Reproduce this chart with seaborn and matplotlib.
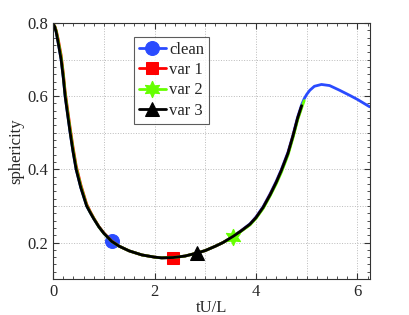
import numpy as np
import pandas as pd
import seaborn as sns
import matplotlib.pyplot as plt
from matplotlib.ticker import MultipleLocator

# time axis and sphericity values
t_clean = [0, 0.03, 0.06, 0.1, 0.157, 0.2, 0.236, 0.285, 0.335, 0.39,
           0.453, 0.545, 0.66, 0.73, 0.8, 0.9, 1.0, 1.155, 1.3, 1.5,
           1.75, 2.0, 2.14, 2.37, 2.6, 2.83, 3.0, 3.2, 3.35, 3.55,
           3.7, 3.88, 4.0, 4.14, 4.28, 4.4, 4.5, 4.63, 4.73, 4.82,
           4.9, 4.95, 5.0, 5.06, 5.15, 5.29, 5.45, 5.65, 5.85, 6.0, 6.24]
s_clean = [0.797, 0.79, 0.775, 0.745, 0.70, 0.65, 0.60, 0.55, 0.50, 0.45,
           0.40, 0.35, 0.30, 0.282, 0.265, 0.243, 0.225, 0.203, 0.19, 0.177,
           0.166, 0.16, 0.158, 0.159, 0.163, 0.171, 0.178, 0.19, 0.2, 0.217,
           0.232, 0.251, 0.27, 0.298, 0.334, 0.368, 0.40, 0.447, 0.495, 0.543,
           0.577, 0.593, 0.605, 0.616, 0.627, 0.632, 0.629, 0.616, 0.602, 0.591, 0.571]

t_var1 = t_clean[:41]
s_var1 = [0.797, 0.792, 0.78, 0.755, 0.712, 0.663, 0.613, 0.563, 0.513, 0.462,
          0.41, 0.358, 0.305, 0.285, 0.267, 0.244, 0.226, 0.204, 0.19, 0.177,
          0.166, 0.16, 0.158, 0.159, 0.163, 0.171, 0.178, 0.19, 0.2, 0.216,
          0.231, 0.249, 0.268, 0.295, 0.331, 0.364, 0.396, 0.443, 0.491, 0.538,
          0.572]

t_var2 = t_clean[:42]
s_var2 = [0.797, 0.791, 0.778, 0.75, 0.707, 0.657, 0.607, 0.557, 0.507, 0.456,
          0.405, 0.354, 0.302, 0.283, 0.266, 0.243, 0.225, 0.203, 0.19, 0.177,
          0.166, 0.16, 0.158, 0.159, 0.163, 0.171, 0.178, 0.19, 0.2, 0.216,
          0.23, 0.248, 0.266, 0.293, 0.328, 0.361, 0.392, 0.439, 0.487, 0.535,
          0.568, 0.588]

t_var3 = t_clean[:41]
s_var3 = [0.797, 0.79, 0.775, 0.745, 0.70, 0.65, 0.60, 0.55, 0.50, 0.45,
          0.40, 0.35, 0.30, 0.282, 0.265, 0.243, 0.225, 0.203, 0.19, 0.177,
          0.166, 0.16, 0.158, 0.159, 0.163, 0.171, 0.178, 0.19, 0.2, 0.217,
          0.231, 0.25, 0.268, 0.296, 0.331, 0.365, 0.397, 0.444, 0.492, 0.54,
          0.574]

# time where each curve carries its one marker
mark_t = [1.155, 2.37, 3.55, 2.83]

labels = ['clean', 'var 1', 'var 2', 'var 3']
colors = ['#2a4bff', '#ff0000', '#66ff00', '#000000']
markers = ['o', 's', (6, 1, 0), '^']
msizes = [10, 9, 12, 10]

sns.set_style('ticks')
plt.rcParams['font.family'] = ['Liberation Serif', 'DejaVu Serif']

fig = plt.figure(figsize=(4.09, 3.15), dpi=100)
ax = fig.add_axes([0.130, 0.114, 0.775, 0.813])

curves = [(t_clean, s_clean), (t_var1, s_var1), (t_var2, s_var2), (t_var3, s_var3)]

for (t, s), mt, lab, c, mk, ms in zip(curves, mark_t, labels, colors, markers, msizes):
    df = pd.DataFrame({'t': t, 's': s})
    sns.lineplot(data=df, x='t', y='s', ax=ax, color=c, lw=2, label=lab,
                 marker=mk, markersize=ms, markevery=[t.index(mt)], markeredgecolor=c)

ax.set_xlim(0, 6.25)
ax.set_ylim(0.1, 0.8)
ax.set_xticks([0, 2, 4, 6])
ax.set_yticks([0.2, 0.4, 0.6, 0.8])
ax.set_yticklabels(['0.2', '0.4', '0.6', '0.8'])
ax.xaxis.set_minor_locator(MultipleLocator(0.2))
ax.yaxis.set_minor_locator(MultipleLocator(0.02))
ax.tick_params(which='both', direction='in', top=True, right=True, labelsize=12, color='#333333')
ax.tick_params(which='major', length=4)
ax.tick_params(which='minor', length=2)
for x in [1, 2, 3, 4, 5, 6]:
    ax.axvline(x, color='#bbbbbb', lw=0.7, ls=':', zorder=0)
for y in [0.2, 0.3, 0.4, 0.5, 0.6, 0.7]:
    ax.axhline(y, color='#bbbbbb', lw=0.7, ls=':', zorder=0)
for sp in ax.spines.values():
    sp.set_color('#333333')
    sp.set_linewidth(0.8)

ax.set_xlabel('tU/L', fontsize=12, labelpad=0)
ax.set_ylabel('sphericity', fontsize=12, labelpad=2)

leg = ax.legend(loc='upper left', bbox_to_anchor=(0.255, 0.945), fontsize=12,
                frameon=True, fancybox=False, handlelength=1.6, handletextpad=0.2,
                borderpad=0.3, labelspacing=0.25, borderaxespad=0)
leg.get_frame().set_edgecolor('#333333')
leg.get_frame().set_linewidth(0.8)

fig.savefig('out.png', dpi=100)
